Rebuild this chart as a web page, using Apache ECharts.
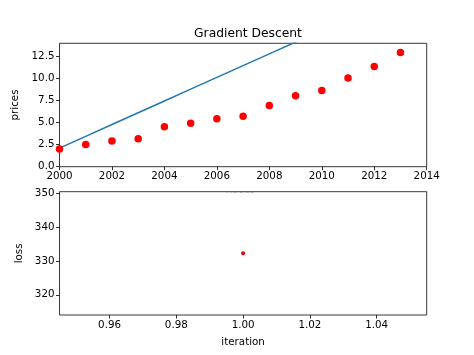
<!DOCTYPE html>
<html>
<head>
<meta charset="utf-8">
<script src="https://cdn.jsdelivr.net/npm/echarts@6/dist/echarts.min.js"></script>
<style>html,body{margin:0;padding:0;background:#fff}#c{width:474px;height:355px}</style>
</head>
<body>
<div id="c"></div>
<script>
// Data
const years = [2000, 2001, 2002, 2003, 2004, 2005, 2006, 2007, 2008, 2009, 2010, 2011, 2012, 2013];
const prices = [2.0, 2.5, 2.9, 3.15, 4.5, 4.9, 5.4, 5.7, 6.9, 8.0, 8.6, 10.0, 11.3, 12.9];
const fitLine = [2.1, 3.43, 4.76, 6.09, 7.42, 8.75, 10.08, 11.41, 12.74, 14.07, 15.4, 16.73, 18.06, 19.39];
const iterations = [1];
const losses = [332.3];
const yearTicks = [2000, 2002, 2004, 2006, 2008, 2010, 2012, 2014];
const priceTicks = [0, 2.5, 5, 7.5, 10, 12.5];
const iterTicks = [0.96, 0.98, 1.00, 1.02, 1.04];
const lossTicks = [320, 330, 340, 350];

const FONT = 'DejaVu Sans';
const txt = {color: '#000', fontFamily: FONT, fontSize: 10.3};
const axLine = {show: false};
const tick = {show: true, inside: false, length: 3.5, lineStyle: {color: '#000', width: 0.8}};

const chart = echarts.init(document.getElementById('c'), null, {renderer: 'canvas'});
chart.setOption({
  animation: false,
  backgroundColor: '#fff',
  title: {
    text: 'Gradient Descent', left: 243, top: 23, textAlign: 'center',
    textStyle: {fontFamily: FONT, fontSize: 12.3, fontWeight: 'normal', color: '#000'}
  },
  graphic: [
    {type: 'text', left: 226, top: 190, z: -2, style: {text: 'years', font: '10.3px "DejaVu Sans"', fill: '#000'}},
    {type: 'rect', shape: {x: 60.5, y: 192.3, width: 365.5, height: 20}, z: -1, style: {fill: '#fff'}}
  ],
  grid: [
    {left: 59.5, right: 47.3, top: 43.3, height: 123.4, show: true, borderColor: '#222', borderWidth: 0.9, backgroundColor: 'transparent'},
    {left: 59.5, right: 47.3, top: 191.7, height: 123.3, show: true, borderColor: '#222', borderWidth: 0.9, backgroundColor: 'transparent'}
  ],
  xAxis: [
    {type: 'value', gridIndex: 0, min: 2000, max: 2014, interval: 2, splitLine: {show: false}, axisLine: axLine,
     axisTick: Object.assign({customValues: yearTicks}, tick),
     axisLabel: Object.assign({margin: 5, customValues: yearTicks, formatter: v => String(v)}, txt)},
    {type: 'value', gridIndex: 1, min: 0.945, max: 1.055, splitLine: {show: false}, axisLine: axLine,
     axisTick: Object.assign({customValues: iterTicks}, tick),
     axisLabel: Object.assign({margin: 5, customValues: iterTicks, formatter: v => v.toFixed(2)}, txt),
     name: 'iteration', nameLocation: 'middle', nameGap: 22, nameTextStyle: txt}
  ],
  yAxis: [
    {type: 'value', gridIndex: 0, min: 0, max: 13.93, splitLine: {show: false}, axisLine: axLine,
     axisTick: Object.assign({customValues: priceTicks}, tick),
     axisLabel: Object.assign({margin: 5, customValues: priceTicks, formatter: v => v.toFixed(1)}, txt),
     name: 'prices', nameLocation: 'middle', nameGap: 35, nameRotate: 90, nameTextStyle: txt},
    {type: 'value', gridIndex: 1, min: 314.0, max: 350.6, splitLine: {show: false}, axisLine: axLine,
     axisTick: Object.assign({customValues: lossTicks}, tick),
     axisLabel: Object.assign({margin: 5, customValues: lossTicks, formatter: v => String(v)}, txt),
     name: 'loss', nameLocation: 'middle', nameGap: 30, nameRotate: 90, nameTextStyle: txt}
  ],
  series: [
    {type: 'line', xAxisIndex: 0, yAxisIndex: 0, data: years.map((y, i) => [y, fitLine[i]]),
     showSymbol: false, clip: true, lineStyle: {color: '#1f77b4', width: 1.5}, z: 2},
    {type: 'scatter', xAxisIndex: 0, yAxisIndex: 0, data: years.map((y, i) => [y, prices[i]]),
     symbolSize: 7.5, itemStyle: {color: '#ff0000', opacity: 1}, clip: false, z: 3},
    {type: 'scatter', xAxisIndex: 1, yAxisIndex: 1, data: iterations.map((x, i) => [x, losses[i]]),
     symbolSize: 4, itemStyle: {color: '#e00000', opacity: 1}, z: 3}
  ]
});
</script>
</body>
</html>
